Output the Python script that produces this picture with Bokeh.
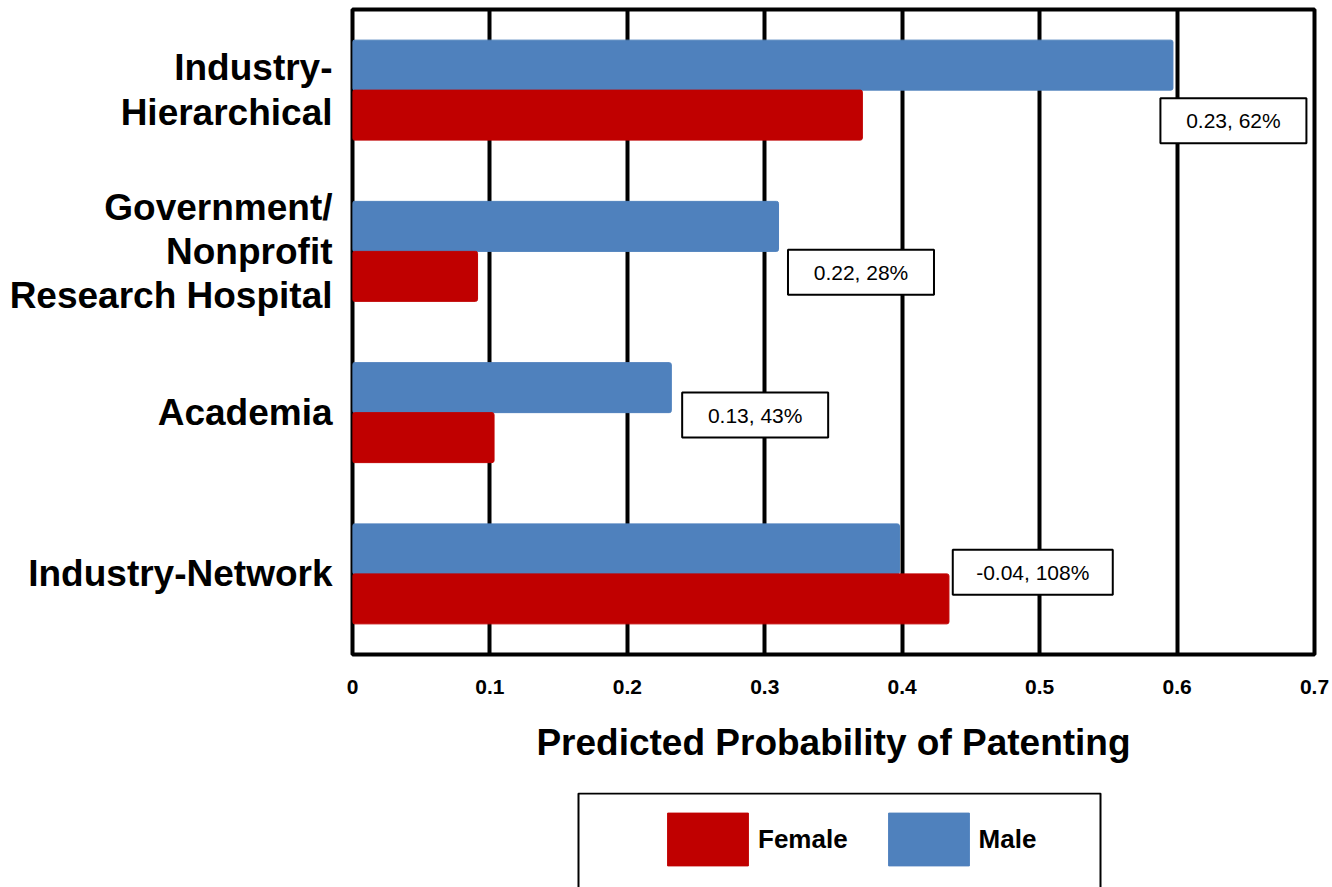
from bokeh.plotting import figure
from bokeh.layouts import column
from bokeh.models import (FactorRange, Range1d, FixedTicker, Legend, LegendItem,
                          ColumnDataSource)
from bokeh.transform import dodge
from bokeh.embed import file_html
from bokeh.resources import INLINE
from bokeh.core.properties import value

# ---- data ----
categories = ["Industry-\nHierarchical",
              "Government/\nNonprofit\nResearch Hospital",
              "Academia",
              "Industry-Network"]
female = [0.371, 0.091, 0.103, 0.434]
male = [0.597, 0.310, 0.232, 0.398]
x_ticks = [0, 0.1, 0.2, 0.3, 0.4, 0.5, 0.6, 0.7]
x_tick_labels = ["0", "0.1", "0.2", "0.3", "0.4", "0.5", "0.6", "0.7"]
ann_text = ["0.23, 62%", "0.22, 28%", "0.13, 43%", "-0.04, 108%"]
# annotation box placement (data x of centre, category offset, box width px)
ann_x = [0.641, 0.370, 0.293, 0.495]
ann_dy = [-0.19, -0.13, -0.015, 0.01]
ann_w = [146, 146, 146, 160]
series_names = ["Female", "Male"]

FONT = "Liberation Sans"
RED = "#C00000"
BLUE = "#4F81BD"

src = ColumnDataSource(dict(cat=categories, female=female, male=male))

p = figure(frame_width=962, frame_height=645, output_backend="svg",
           toolbar_location=None,
           y_range=FactorRange(factors=categories[::-1]),
           x_range=Range1d(0, 0.7),
           min_border_left=352, min_border_right=18, min_border_top=9,
           min_border_bottom=137)
p.background_fill_color = "white"
p.border_fill_color = "white"
p.outline_line_color = "black"
p.outline_line_width = 4

rm = p.hbar(y=dodge("cat", 0.155, range=p.y_range), right="male", left=0,
            height=0.31, source=src, fill_color=BLUE, line_color=BLUE,
            border_radius=2)
rf = p.hbar(y=dodge("cat", -0.155, range=p.y_range), right="female", left=0,
            height=0.31, source=src, fill_color=RED, line_color=RED,
            border_radius=2)

for i in range(len(categories)):
    s = ColumnDataSource(dict(cat=[categories[i]], x=[ann_x[i]], t=[ann_text[i]]))
    yy = dodge("cat", ann_dy[i], range=p.y_range)
    p.rect(x="x", y=yy, width=ann_w[i], height=45, width_units="screen",
           height_units="screen", source=s, fill_color="white",
           line_color="black", line_width=2)
    p.text(x="x", y=yy, text="t", source=s, text_align="center",
           text_baseline="middle", text_font=value(FONT),
           text_font_size="21px", text_color="black")

# grid
p.ygrid.grid_line_color = None
p.xgrid.grid_line_color = "black"
p.xgrid.grid_line_width = 4
p.xgrid.ticker = FixedTicker(ticks=x_ticks)

# x axis
p.xaxis.ticker = FixedTicker(ticks=x_ticks)
p.xaxis.major_label_overrides = {t: l for t, l in zip(x_ticks, x_tick_labels)}
p.xaxis.axis_line_color = None
p.xaxis.major_tick_line_color = None
p.xaxis.minor_tick_line_color = None
p.xaxis.major_label_text_font = FONT
p.xaxis.major_label_text_font_style = "bold"
p.xaxis.major_label_text_font_size = "21px"
p.xaxis.major_label_text_color = "black"
p.xaxis.major_label_standoff = 19
p.xaxis.axis_label = "Predicted Probability of Patenting"
p.xaxis.axis_label_text_font = FONT
p.xaxis.axis_label_text_font_style = "bold"
p.xaxis.axis_label_text_font_size = "37px"
p.xaxis.axis_label_text_color = "black"
p.xaxis.axis_label_standoff = 25

# y axis
p.yaxis.axis_line_color = None
p.yaxis.major_tick_line_color = None
p.yaxis.minor_tick_line_color = None
p.yaxis.major_label_text_font = FONT
p.yaxis.major_label_text_font_style = "bold"
p.yaxis.major_label_text_font_size = "37px"
p.yaxis.major_label_text_color = "black"
p.yaxis.major_label_standoff = 14
p.yaxis.major_label_text_line_height = 1.08

# ---- legend strip below the chart (pixel-space ranges) ----
lg = figure(frame_width=962, frame_height=95, output_backend="svg",
            toolbar_location=None, x_range=Range1d(352, 1314),
            y_range=Range1d(887, 792),
            min_border_left=352, min_border_right=18, min_border_top=1,
            min_border_bottom=0)
lg.axis.visible = False
lg.grid.visible = False
lg.outline_line_color = None
lg.background_fill_color = "white"
lg.border_fill_color = "white"

# legend frame box
lg.quad(left=[578], right=[1100], top=[793], bottom=[895],
        fill_color="white", line_color="black", line_width=2)

# off-screen proxies so the legend has renderers to draw swatches from
proxy = ColumnDataSource(dict(y=[5000], r=[5000]))
lf = lg.hbar(y="y", right="r", left=4000, height=1, source=proxy,
             fill_color=RED, line_color=RED)
lm = lg.hbar(y="y", right="r", left=4000, height=1, source=proxy,
             fill_color=BLUE, line_color=BLUE)

legend = Legend(items=[LegendItem(label=series_names[0], renderers=[lf]),
                       LegendItem(label=series_names[1], renderers=[lm])],
                orientation="horizontal", location=(305, 15),
                glyph_width=101, glyph_height=66, label_standoff=0, spacing=30,
                label_text_font=FONT, label_text_font_style="bold",
                label_text_font_size="26px", label_text_color="black",
                border_line_color=None, background_fill_alpha=0,
                padding=0, margin=0)
lg.add_layout(legend, "center")

layout = column(p, lg, spacing=0)
open("out.html", "w").write(file_html(layout, INLINE))
